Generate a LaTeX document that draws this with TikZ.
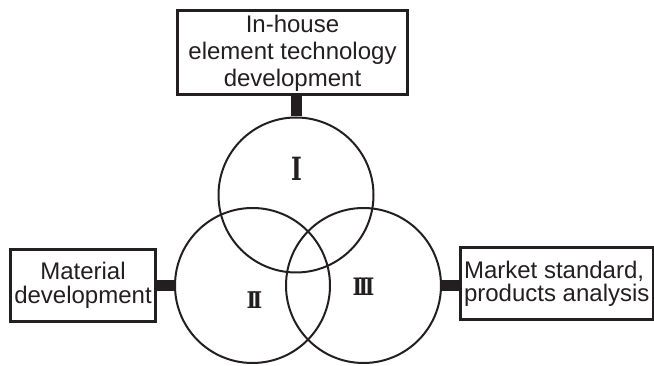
\documentclass[tikz,border=0pt]{standalone}
\usepackage{fontspec}
\usepackage{graphicx}
\setsansfont{Liberation Sans}
\newfontfamily\numfont{DejaVu Serif}
\definecolor{ink}{HTML}{231F20}
\tikzset{
  box/.style={draw=ink, line width=3pt, inner sep=0pt, align=center, text=ink},
  ring/.style={circle, draw=ink, line width=2pt, minimum size=155pt, inner sep=0pt},
  link/.style={draw=ink, line width=11pt},
  numeral/.style={inner sep=0pt, text=ink, font=\numfont\bfseries}
}
\begin{document}
\begin{tikzpicture}[x=1pt,y=-1pt]
\useasboundingbox (0,0) rectangle (654,366);
\node[ring] (c1) at (296,195) {};
\node[ring] (c2) at (252.5,285.5) {};
\node[ring] (c3) at (363.5,285.5) {};
\node[box, minimum width=230pt, minimum height=84pt,
  font=\sffamily\fontsize{24}{27}\selectfont] (top) at (292.5,53)
  {In-house\\element technology\\development};
\node[box, minimum width=145pt, minimum height=72pt,
  font=\sffamily\fontsize{24}{24}\selectfont] (left) at (83,285.5)
  {Material\\development};
\node[box, minimum width=192.5pt, minimum height=72pt, align=left,
  font=\sffamily\fontsize{24}{23}\selectfont] (right) at (556.75,284)
  {Market standard,\\products analysis};
\draw[link] (c1.north |- top.south) -- (c1.north);
\draw[link] (c2.west -| left.east) -- (c2.west);
\draw[link] (c3.east) -- (c3.east -| right.west);
\node[numeral] (n1) at (297,168.5) {\fontsize{32}{32}\selectfont\scalebox{0.72}[1]{I}};
\node[numeral] (n2) at (254.5,300) {\fontsize{23}{23}\selectfont\scalebox{0.9}[1]{I\kern-4ptI}};
\node[numeral] (n3) at (363.5,286.5) {\fontsize{24}{24}\selectfont\scalebox{0.85}[1]{I\kern-4ptI\kern-4ptI}};
\end{tikzpicture}
\end{document}
